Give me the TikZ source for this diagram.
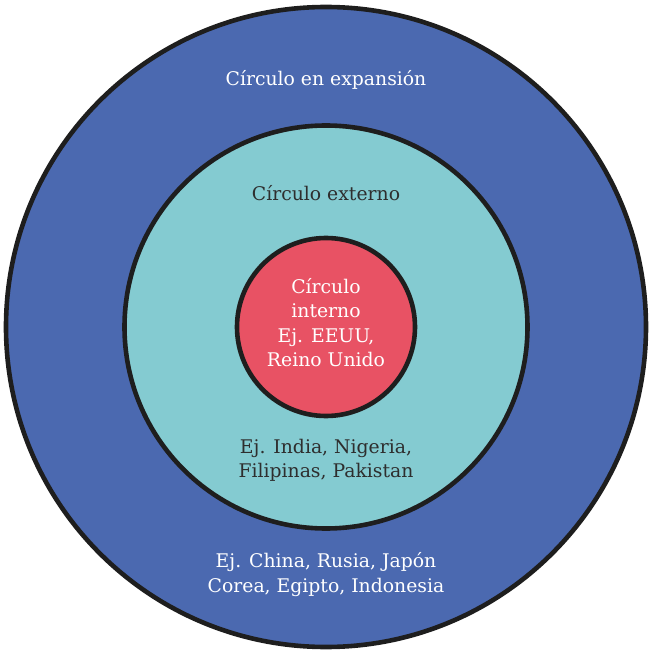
\documentclass[tikz,border=0pt]{standalone}
\usepackage{fontspec}
\setmainfont{DejaVu Serif}
\usetikzlibrary{positioning}

\definecolor{ringblue}{HTML}{4B69B0}
\definecolor{ringteal}{HTML}{84CBD1}
\definecolor{ringred}{HTML}{E85264}
\definecolor{ringline}{HTML}{1E1E1E}
\definecolor{darktext}{HTML}{2E2E2E}

\begin{document}
\begin{tikzpicture}[x=1pt, y=1pt,
    ring/.style={draw=ringline, line width=4.6pt},
    label/.style={align=center, font=\fontsize{18.8}{24.3}\selectfont}]
    \useasboundingbox (-326,-326) rectangle (327,327);

    % Circles
    \filldraw[ring, fill=ringblue] (0,0) circle (320);
    \filldraw[ring, fill=ringteal] (0,0) circle (201.5);
    \filldraw[ring, fill=ringred] (0,0) circle (89);

    % Labels
    \node[label, text=white] (expansion) at (0,247) {Círculo en expansión};
    \node[label, text=darktext] (externo) at (0,134) {Círculo externo};
    \node[label, text=white] (interno) at (0,4.5) {Círculo\\interno\\Ej. EEUU,\\Reino Unido};
    \node[label, text=darktext] (india) at (0,-133) {Ej. India, Nigeria,\\Filipinas, Pakistan};
    \node[label, text=white] (china) at (0,-247.5) {Ej. China, Rusia, Japón\\Corea, Egipto, Indonesia};
\end{tikzpicture}
\end{document}
